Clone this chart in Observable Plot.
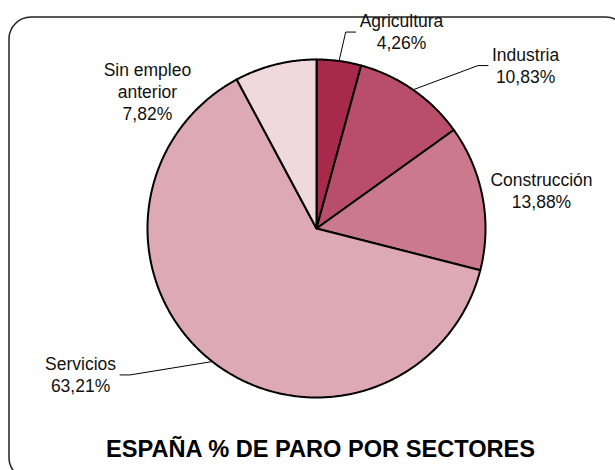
<!DOCTYPE html>
<html>
<head>
<meta charset="utf-8">
<script src="https://cdn.jsdelivr.net/npm/d3@7"></script>
<script src="https://cdn.jsdelivr.net/npm/@observablehq/plot@0.6"></script>
<style>
  body { margin: 0; background: #fff; }
  #chart svg { display: block; }
</style>
</head>
<body>
<div id="chart"></div>
<script>
// ---- data ----
const sectors = ["Agricultura", "Industria", "Construcción", "Servicios", "Sin empleo anterior"];
const sectorLabels = ["Agricultura", "Industria", "Construcción", "Servicios", "Sin empleo\nanterior"];
const shares = [4.26, 10.83, 13.88, 63.21, 7.82];
const shareLabels = ["4,26%", "10,83%", "13,88%", "63,21%", "7,82%"];
const colors = ["#A82A4A", "#B94E6A", "#CB7A8E", "#DDA9B5", "#F0D8DF"];
const chartTitle = "ESPAÑA % DE PARO POR SECTORES";

// ---- layout (positions/styles) ----
const W = 615, H = 470, CX = 316, CY = 228, R = 169;
const FONT = "'Liberation Sans', Arial, Helvetica, sans-serif";
const LABEL_SIZE = 17.5;
// label placement around pie: angle (deg, clockwise from 12 o'clock), distance in pie radii, leader side
const labelAngle = [23.3, 51.9, 80.2, 238.35, 309.2];
const labelDist = [1.272, 1.572, 1.351, 1.640, 1.291];
const leaderSide = ["left", "left", null, "right", null];

// ---- derived geometry ----
const total = d3.sum(shares);
let acc = 0;
const slices = shares.map((v, i) => {
  const s = acc / total * 2 * Math.PI;
  acc += v;
  const e = acc / total * 2 * Math.PI;
  return {sector: sectors[i], s, e, mid: (s + e) / 2};
});
const piePoints = [];
for (const sl of slices) {
  piePoints.push({sector: sl.sector, x: 0, y: 0});
  const n = Math.max(2, Math.ceil((sl.e - sl.s) / (Math.PI / 360)));
  for (let k = 0; k <= n; k++) {
    const a = sl.s + (sl.e - sl.s) * k / n;
    piePoints.push({sector: sl.sector, x: Math.sin(a), y: Math.cos(a)});
  }
}

const ctx = document.createElement("canvas").getContext("2d");
ctx.font = `${LABEL_SIZE}px ${FONT}`;
const labels = sectors.map((sec, i) => {
  const a = labelAngle[i] * Math.PI / 180;
  const text = sectorLabels[i] + "\n" + shareLabels[i];
  const w = d3.max(text.split("\n"), t => ctx.measureText(t).width);
  return {sector: sec, text, x: labelDist[i] * Math.sin(a), y: labelDist[i] * Math.cos(a), halfW: w / 2 / R};
});

const leaderPoints = [];
labels.forEach((lb, i) => {
  const side = leaderSide[i];
  if (!side) return;
  const m = slices[i].mid;
  const sgn = side === "left" ? -1 : 1;
  const endX = lb.x + sgn * (lb.halfW + 4 / R);
  const elbowX = endX + sgn * (10 / R);
  leaderPoints.push({sector: lb.sector, x: Math.sin(m), y: Math.cos(m)});
  leaderPoints.push({sector: lb.sector, x: elbowX, y: lb.y - 1 / R});
  leaderPoints.push({sector: lb.sector, x: endX, y: lb.y - 1 / R});
});

const chart = Plot.plot({
  width: W,
  height: H,
  margin: 0,
  style: {fontFamily: FONT, background: "#fff", overflow: "hidden"},
  x: {domain: [-CX / R, (W - CX) / R], axis: null},
  y: {domain: [-(H - CY) / R, CY / R], axis: null},
  color: {domain: sectors, range: colors},
  marks: [
    Plot.frame({rx: 22, stroke: "#222", strokeWidth: 1.5, insetLeft: 8.5, insetTop: 16.5, insetRight: -12, insetBottom: -9}),
    Plot.line(piePoints, {x: "x", y: "y", z: "sector", fill: "sector", stroke: "#000", strokeWidth: 2, strokeLinejoin: "round", curve: "linear-closed"}),
    Plot.line(leaderPoints, {x: "x", y: "y", z: "sector", stroke: "#000", strokeWidth: 1}),
    Plot.text(labels, {x: "x", y: "y", text: "text", fontSize: LABEL_SIZE, lineHeight: 1.26, fill: "#111", textAnchor: "middle"}),
    Plot.text([chartTitle], {frameAnchor: "bottom", dx: 12.5, dy: -21, text: d => d, fontSize: 23.6, fontWeight: "bold", fill: "#000", lineAnchor: "middle"})
  ]
});
document.getElementById("chart").append(chart);
</script>
</body>
</html>
